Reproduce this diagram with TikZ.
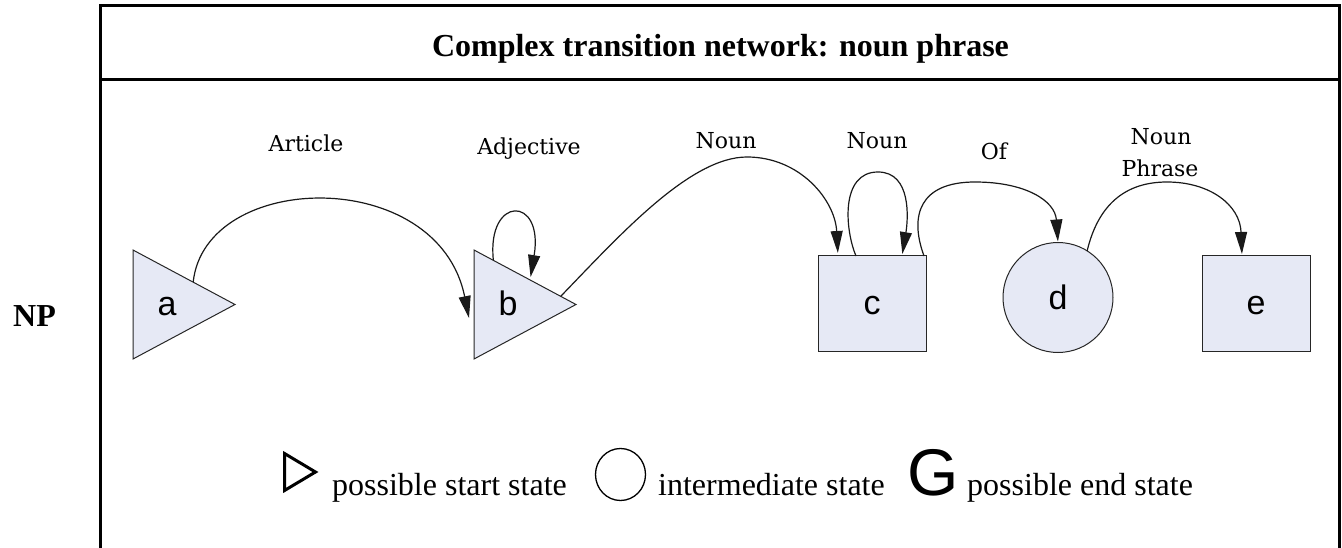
\documentclass[tikz,border=0pt]{standalone}
\usepackage{fontspec}
\setmainfont{Liberation Serif}
\newfontfamily\arclabelfont{DejaVu Serif}
\newfontfamily\statefont{Liberation Sans}
\usetikzlibrary{shapes.geometric,arrows.meta,calc}
\definecolor{statefill}{HTML}{E6E9F5}

\begin{document}
\begin{tikzpicture}[x=1pt,y=-1pt,
  frame/.style={line width=3pt},
  % for a right-pointing isosceles triangle, width is the base and height the depth
  startstate/.style={isosceles triangle, isosceles triangle stretches,
    draw=black!85, line width=1pt, fill=statefill, inner sep=0pt, outer sep=0pt,
    minimum width=109pt, minimum height=102pt, anchor=apex},
  boxstate/.style={rectangle, draw=black!85, line width=1pt, fill=statefill,
    inner sep=0pt, outer sep=0pt, minimum width=108pt, minimum height=95pt},
  midstate/.style={circle, draw=black!85, line width=1pt, fill=statefill,
    inner sep=0pt, outer sep=0pt, minimum size=110pt},
  letter/.style={font=\statefont\fontsize{34}{34}\selectfont, inner sep=0pt, anchor=base},
  arclabel/.style={font=\arclabelfont\fontsize{22}{26}\selectfont, inner sep=0pt, anchor=base},
  trans/.style={line width=1.2pt, draw=black!90, -{Triangle[length=22pt,width=12pt]}},
  legendtext/.style={font=\fontsize{32}{38}\selectfont, inner sep=0pt, anchor=base west},
  heading/.style={font=\bfseries\fontsize{32}{38}\selectfont, inner sep=0pt}
]
\useasboundingbox (0,0) rectangle (1342,548);

% outer frame and heading row
\draw[frame, line join=miter] (100,548) -- (100,6) -- (1339,6) -- (1339,548);
\draw[frame] (100,80) -- (1339,80);
\node[heading, anchor=base] (title) at (720.5,57) {Complex transition network: noun phrase};
\node[heading, anchor=base west] (np) at (13,326) {NP};

% states
\node[startstate] (a) at (235,304.5) {};
\node[startstate] (b) at (576,304.5) {};
\node[boxstate] (c) at (872,303.5) {};
\node[midstate] (d) at (1058,297.5) {};
\node[boxstate] (e) at (1256,303.5) {};

% state letters (triangle letters sit on the centroid)
\node[letter] (la) at ($(a.left corner)!0.5!(a.right corner)!0.3333!(a.apex)+(0,11)$) {a};
\node[letter] (lb) at ($(b.left corner)!0.5!(b.right corner)!0.3333!(b.apex)+(0,11)$) {b};
\node[letter] (lc) at ($(c.center)+(0,11.5)$) {c};
\node[letter] (ld) at ($(d.center)+(0,11.5)$) {d};
\node[letter] (le) at ($(e.center)+(0,11.5)$) {e};

% transitions
\draw[trans] ($(a.left corner)!0.59!(a.apex)$)
  .. controls +(12,-112) and +(-31,-153) .. ($(b.left corner)!0.624!(b.right corner)+(-5,0)$);
\draw[trans, shorten >=3pt] ($(b.left corner)!0.19!(b.apex)$)
  .. controls +(-7,-65) and +(14,-85) .. ($(b.left corner)!0.55!(b.apex)$);
\draw[trans, shorten >=3pt] ($(b.left corner)!0.85!(b.apex)$)
  .. controls +(59,-61) and +(-57,0) .. (747,157)
  .. controls +(53,0) and +(-3,-56) .. ([xshift=-34pt]c.north);
\draw[trans, shorten >=2pt] ([xshift=-16pt]c.north)
  .. controls +(-11,-26) and +(-38,0) .. (878,172)
  .. controls +(34,0) and +(6,-36) .. ([xshift=30pt]c.north);
\draw[trans, shorten >=1pt] ([xshift=-2pt]c.north east)
  .. controls +(-15,-41) and +(-55,0) .. (975,182)
  .. controls +(50,0) and +(-3,-42) .. (d.north);
\draw[trans, shorten >=2pt] (d.58)
  .. controls +(11,-46) and +(-42,0) .. (1167,182)
  .. controls +(43,0) and +(-2,-51) .. ([xshift=-14pt]e.north);

% transition labels
\node[arclabel] (tArticle) at (306,152) {Article};
\node[arclabel] (tAdjective) at (529,155) {Adjective};
\node[arclabel] (tNounA) at (726,149) {Noun};
\node[arclabel] (tNounB) at (877,149) {Noun};
\node[arclabel] (tOf) at (994,160) {Of};
\node[arclabel] (tNP1) at (1161,145) {Noun};
\node[arclabel] (tNP2) at (1160,177) {Phrase};

% legend
\node[isosceles triangle, isosceles triangle stretches, draw, line width=3pt,
  inner sep=0pt, outer sep=0pt, minimum width=37pt, minimum height=31pt, anchor=apex]
  (legstart) at (315.5,472) {};
\node[legendtext] (legstarttext) at (332,495) {possible start state};
\node[ellipse, draw, line width=1.3pt, inner sep=0pt, minimum width=50pt, minimum height=52pt]
  (legmid) at (620.5,474.5) {};
\node[legendtext] (legmidtext) at (658,495) {intermediate state};
\node[font=\statefont\fontsize{66}{66}\selectfont, inner sep=0pt, anchor=base west]
  (legend) at (907,495) {G};
\node[legendtext] (legendtext) at (967,495) {possible end state};
\end{tikzpicture}
\end{document}
